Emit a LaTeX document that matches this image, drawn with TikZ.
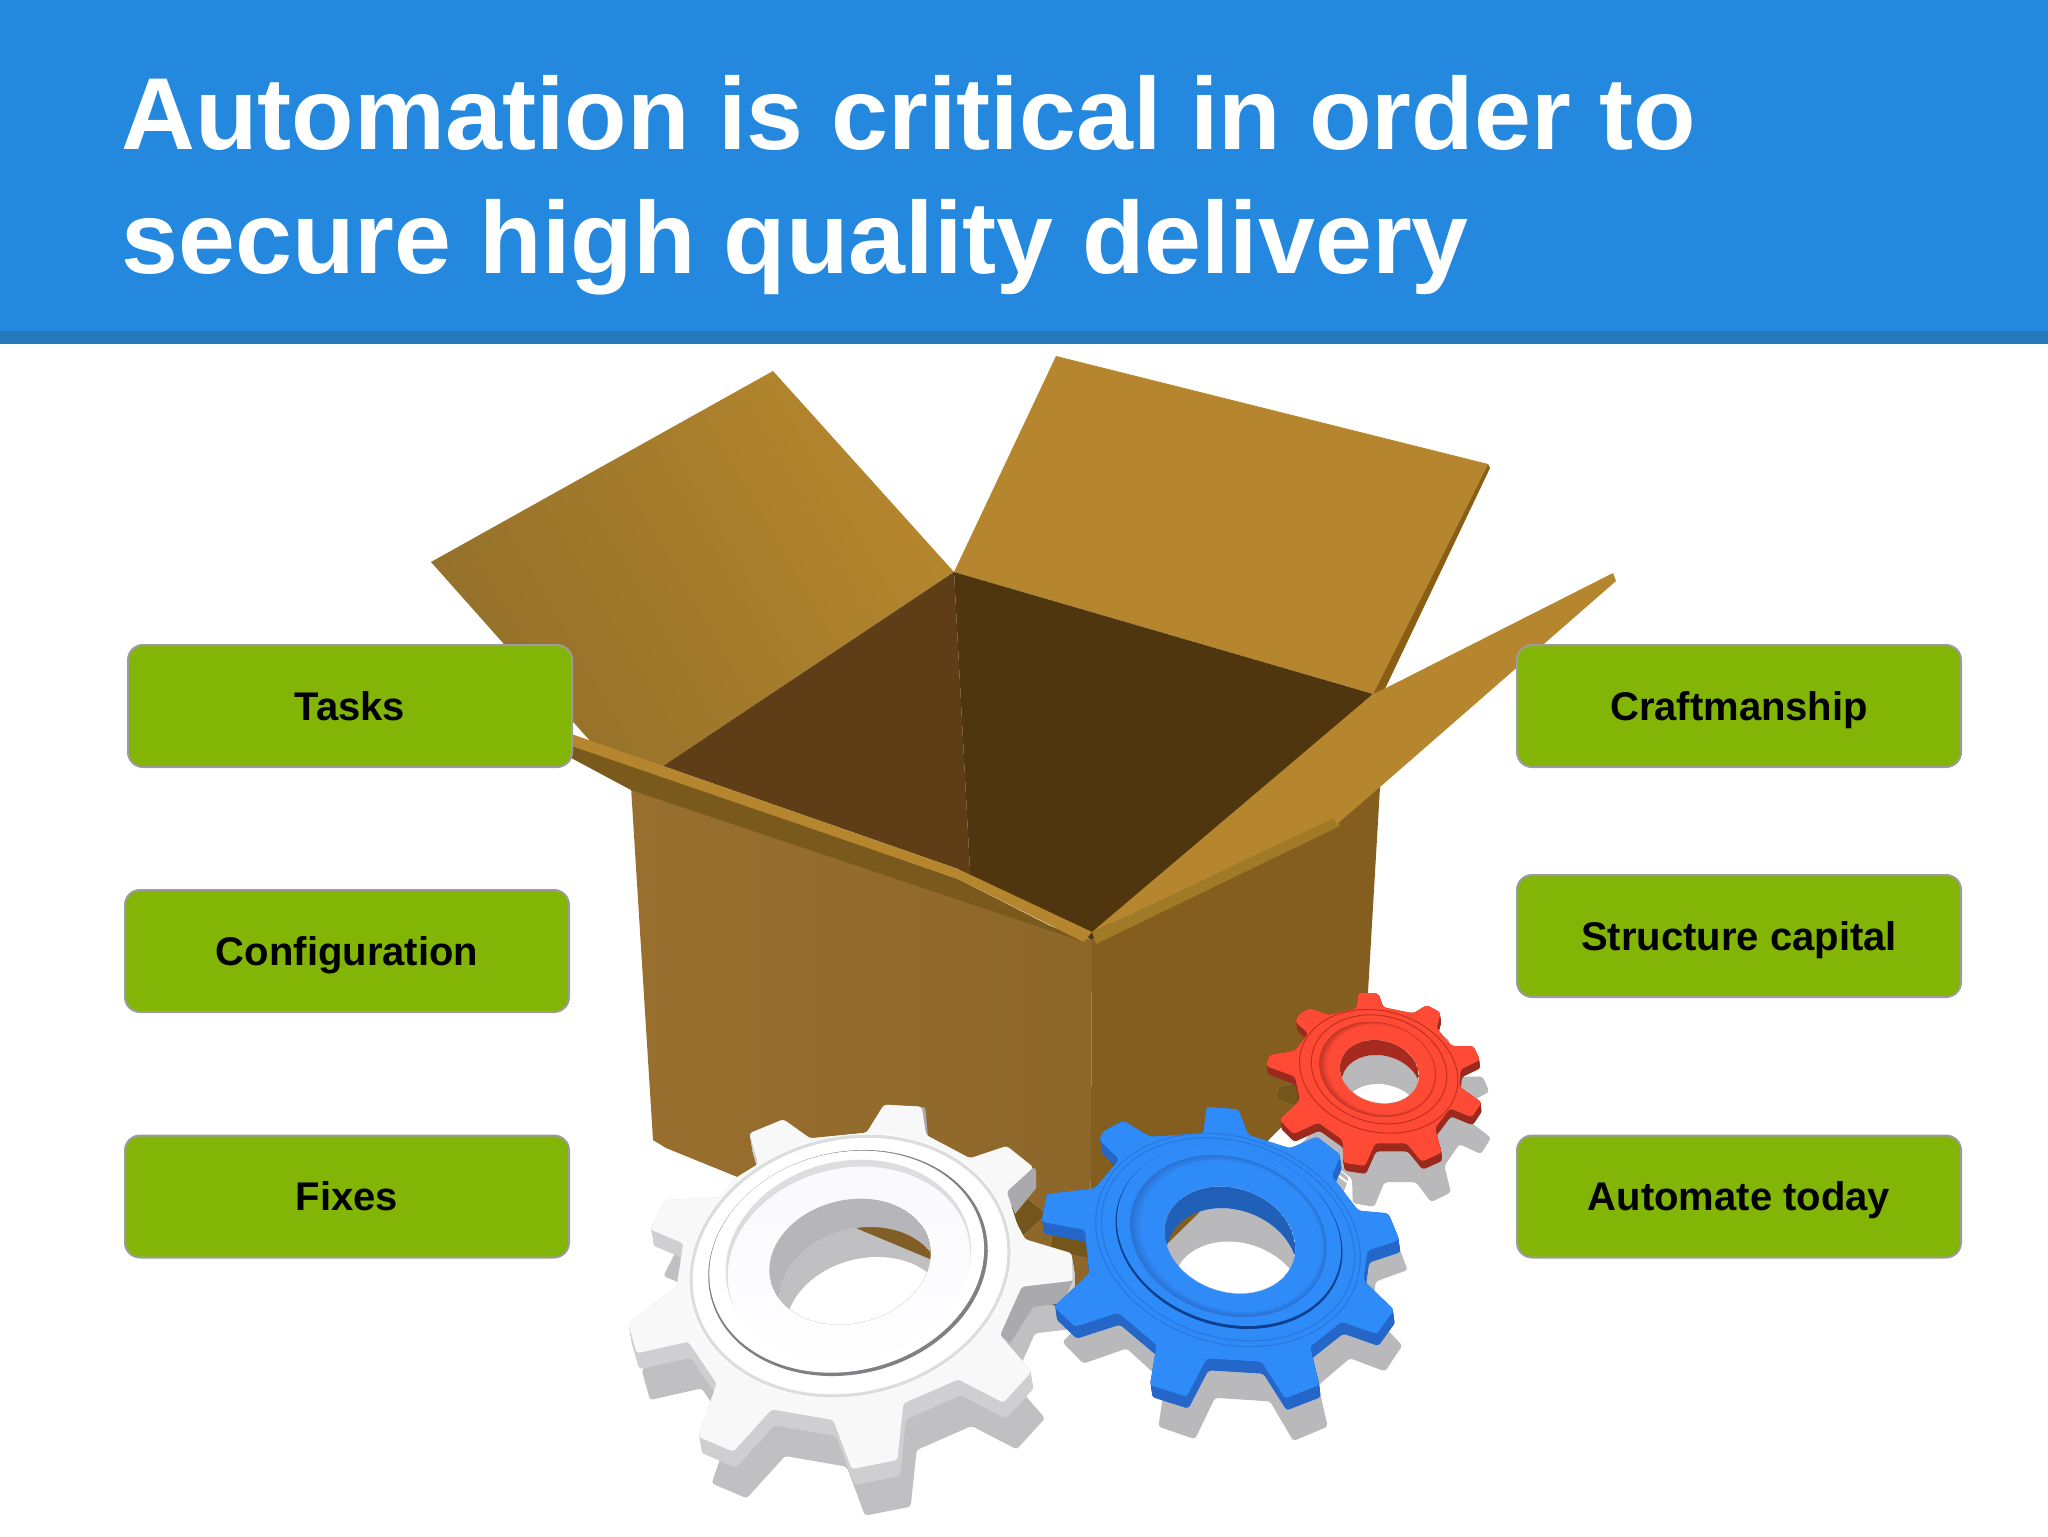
\documentclass[tikz,border=0pt]{standalone}
\usepackage{fontspec}
\setmainfont{Liberation Sans}
\definecolor{hdr}{HTML}{2388DE}
\definecolor{hdrdark}{HTML}{2578BC}
\definecolor{lbl}{HTML}{82B505}
\definecolor{lblline}{HTML}{9C9C9C}
\definecolor{flap}{HTML}{B5862D}
\definecolor{flapdim}{HTML}{94702A}
\definecolor{flapedge}{HTML}{8A5E14}
\definecolor{flapstrip}{HTML}{A07A26}
\definecolor{faceL}{HTML}{996F2E}
\definecolor{faceR}{HTML}{845E1E}
\definecolor{inL}{HTML}{5F3D16}
\definecolor{inR}{HTML}{4F360F}
\definecolor{stripdark}{HTML}{7A5A1C}
\definecolor{brownshade}{HTML}{74561A}
\definecolor{shadowG}{HTML}{B9B9BB}
\definecolor{shadowW}{HTML}{C0C0C3}
\definecolor{wTop}{HTML}{F8F8F9}
\definecolor{wSide}{HTML}{CFCFD2}
\definecolor{wSideD}{HTML}{A9A9AE}
\definecolor{wWall}{HTML}{B5B5BA}
\definecolor{wRing}{HTML}{DDDDE0}
\definecolor{wDark}{HTML}{7F7F84}
\definecolor{wCone}{HTML}{F9F9FE}
\definecolor{bTop}{HTML}{2F8BF7}
\definecolor{bSide}{HTML}{2567C8}
\definecolor{bWall}{HTML}{2060B8}
\definecolor{bDark}{HTML}{0D3F8F}
\definecolor{bLine}{HTML}{2A78E0}
\definecolor{bCone}{HTML}{2A72D4}
\definecolor{rTop}{HTML}{FF4A36}
\definecolor{rSide}{HTML}{9B2A1E}
\definecolor{rWall}{HTML}{A62A1E}
\definecolor{rLine}{HTML}{C0301F}
\definecolor{rCone}{HTML}{C23526}
\def\EE#1#2#3#4#5{(#1,#2) circle [x radius=#3,y radius=#4,rotate=#5]}
\def\Wpoly{(740,128) -- (792,44) -- (905,50) -- (918,135) -- (1050,205) -- (1160,168) -- (1240,232) -- (1160,305) -- (1190,400) -- (1215,448) -- (1355,490) -- (1358,572) -- (1205,590) -- (1140,735) -- (1235,845) -- (1150,938) -- (1015,868) -- (850,940) -- (832,1110) -- (695,1137) -- (640,990) -- (455,958) -- (340,1085) -- (235,1040) -- (290,880) -- (205,755) -- (50,790) -- (25,700) -- (170,590) -- (190,460) -- (90,418) -- (135,330) -- (300,322) -- (345,265) -- (415,222) -- (388,130) -- (490,88) -- (570,145) -- cycle}
\def\Bpoly{(520,130) -- (530,50) -- (625,58) -- (655,135) -- (780,175) -- (860,140) -- (932,195) -- (905,258) -- (985,362) -- (1075,370) -- (1108,450) -- (1012,482) -- (1000,570) -- (1092,660) -- (1040,732) -- (935,695) -- (840,770) -- (868,885) -- (765,925) -- (695,815) -- (530,805) -- (470,920) -- (360,885) -- (380,765) -- (265,668) -- (135,710) -- (72,650) -- (178,550) -- (165,420) -- (35,395) -- (50,312) -- (195,295) -- (268,208) -- (208,150) -- (218,125) -- (280,92) -- (360,140) -- cycle}
\def\Rpoly{(320,85) -- (325,38) -- (385,40) -- (400,82) -- (490,100) -- (530,75) -- (572,98) -- (560,145) -- (605,198) -- (670,198) -- (690,240) -- (632,268) -- (628,320) -- (695,367) -- (665,412) -- (600,385) -- (555,445) -- (575,518) -- (515,545) -- (470,490) -- (375,490) -- (345,558) -- (280,548) -- (278,480) -- (205,428) -- (130,462) -- (88,420) -- (150,360) -- (135,290) -- (48,258) -- (58,225) -- (135,212) -- (175,160) -- (135,125) -- (150,100) -- (180,85) -- (235,105) -- cycle}
\def\BoxOutline{(631,787) -- (1092,940) -- (1380,787) -- (1365,1043) -- (1090,1320) -- (666,1148) -- (653,1140) -- cycle}
\tikzset{
  whitezoom/.style={shift={(620,1090)},scale=0.33333},
  bluezoom/.style={shift={(1030,1090)},scale=0.33333},
  redzoom/.style={shift={(1250,980)},scale=0.33333},
  tabbox/.style={draw=lblline,line width=1pt,fill=lbl,rounded corners=7.5pt,minimum width=222pt,minimum height=61pt,inner sep=0pt,text=black,text height=14.3pt,text depth=0pt,font=\fontsize{20}{24}\selectfont\bfseries},
  toothy/.style={rounded corners=1.5pt}
}
\begin{document}
\begin{tikzpicture}[x=0.5pt,y=-0.5pt]
\useasboundingbox (0,0) rectangle (2048,1536);
% header
\fill[hdr] (0,0) rectangle (2048,331);
\fill[hdrdark] (0,331) rectangle (2048,344);
\node[anchor=north west,inner sep=0pt,text=white,align=left,font=\fontsize{51.15}{62}\selectfont\bfseries] (title) at (121,75) {Automation is critical in order to\\secure high quality delivery};
% carton: back flaps
\shade[left color=flapdim,right color=flap,shading angle=120] (773,371) -- (954,572) -- (663,766) -- (591,742) -- (431,562) -- cycle;
\fill[flap] (1056,356) -- (1488,464) -- (1373,694) -- (954,572) -- cycle;
\fill[flapedge] (1488,464) -- (1490,468) -- (1384,691) -- (1373,694) -- cycle;
% carton: faces
\shade[left color=faceL,right color=faceL!92!black] (631,787) -- (1092,940) -- (1090,1320) -- (666,1148) -- (653,1140) -- cycle;
\fill[faceR] (1092,940) -- (1380,787) -- (1365,1043) -- (1090,1320) -- cycle;
% carton: inside
\fill[inL] (954,572) -- (663,766) -- (958,869) -- (966,880) -- (970,871) -- cycle;
\fill[inR] (954,572) -- (1373,694) -- (1092,940) -- (966,880) -- (970,871) -- cycle;
% carton: front flap
\fill[stripdark] (560,740) -- (958,879) -- (1078,940) -- (631,790) -- (560,752) -- cycle;
\fill[flap] (560,730) -- (663,766) -- (958,869) -- (1092,932) -- (1084,942) -- (958,879) -- (560,742) -- cycle;
% carton: right flap
\fill[flapstrip] (1092,932) -- (1335,817) -- (1340,826) -- (1096,944) -- cycle;
\fill[flap] (1373,694) -- (1384,689) -- (1613,573) -- (1616,581) -- (1380,787) -- (1337,824) -- (1334,818) -- (1092,932) -- cycle;
% label boxes
\node[tabbox] (tasks) at (350,706) {Tasks};
\node[tabbox] (config) at (347,951) {Configuration};
\node[tabbox] (fixes) at (347,1196.5) {Fixes};
\node[tabbox] (craft) at (1739,706) {Craftmanship};
\node[tabbox] (struct) at (1739,936) {Structure capital};
\node[tabbox] (autom) at (1739,1196.5) {Automate today};
% shadows on white
\begin{scope}[whitezoom,shift={(40,140)}]\fill[shadowW,toothy] \Wpoly;\end{scope}
\begin{scope}[bluezoom,shift={(25,54)},yscale=1.08]\fill[shadowG,toothy] \Bpoly;\end{scope}
\begin{scope}[redzoom,shift={(28,75)},yscale=1.085]\fill[shadowG,toothy] \Rpoly;\end{scope}
% the same shadows where they fall on the carton
\begin{scope}
\clip \BoxOutline;
\begin{scope}[whitezoom,shift={(40,140)}]\fill[brownshade,toothy] \Wpoly;\end{scope}
\begin{scope}[bluezoom,shift={(25,54)},yscale=1.08]\fill[brownshade,toothy] \Bpoly;\end{scope}
\begin{scope}[redzoom,shift={(28,75)},yscale=1.085]\fill[brownshade,toothy] \Rpoly;\end{scope}
\end{scope}
% white gear
\begin{scope}[whitezoom]
\foreach \t in {0,...,24} {\begin{scope}[shift={(\t*0.33,\t*2)}]\fill[wSide,toothy] \Wpoly;\end{scope}}
\fill[wSideD] (1160,305) -- (1240,232) -- (1248,240) -- (1248,295) -- (1185,372) -- cycle;
\fill[wSideD] (1205,590) -- (1358,572) -- (1330,640) -- (1240,650) -- (1170,760) -- (1140,735) -- cycle;
\fill[wSideD] (905,50) -- (916,55) -- (924,140) -- (918,135) -- cycle;
\fill[wTop,toothy] \Wpoly;
\fill[white] \EE{690}{528}{490}{390}{14};
\draw[wRing,line width=1.6pt] \EE{690}{528}{482}{383}{14};
\fill[wDark] \EE{684}{519}{424}{333}{14};
\fill[white] \EE{680}{515}{417}{327}{14};
\fill[wRing] \EE{685}{512}{372}{298}{14};
\shade[top color=wCone,bottom color=white] \EE{687}{525}{368}{290}{14};
\begin{scope}
\clip \EE{690}{515}{245}{185}{14};
\fill[white] (300,250) rectangle (1050,800);
\fill[shadowW] \EE{720}{600}{245}{185}{14};
\fill[faceL!85!black] (700,405) -- (950,405) -- (950,515) -- (925,505) -- (710,415) -- cycle;
\fill[white] \EE{740}{690}{245}{185}{14};
\fill[wWall,even odd rule] \EE{690}{515}{245}{185}{14} \EE{720}{600}{245}{185}{14};
\end{scope}
\end{scope}
% red gear
\begin{scope}[redzoom]
\foreach \t in {0,...,12} {\begin{scope}[shift={(\t*0.25,\t*2)}]\fill[rSide,toothy] \Rpoly;\end{scope}}
\fill[rTop,toothy] \Rpoly;
\draw[rLine,line width=0.5pt] \EE{386}{274}{241}{181}{-15};
\draw[rLine,line width=0.5pt] \EE{387}{268}{206}{160}{-15};
\foreach \t in {0,...,8} {
  \pgfmathsetmacro\p{100-\t*12.5}
  \pgfmathsetmacro\cx{383+\t*1.2}
  \pgfmathsetmacro\aa{178-\t*2}
  \pgfmathsetmacro\bb{140-\t*1}
  \fill[rCone!\p!rTop] \EE{\cx}{268}{\aa}{\bb}{-15};
}
\begin{scope}
\clip \EE{388}{275}{120}{93}{-15};
\fill[white] (200,120) rectangle (600,450);
\fill[shadowG] \EE{393}{320}{120}{93}{-15};
\fill[white] \EE{398}{407}{120}{93}{-15};
\fill[rWall,even odd rule] \EE{388}{275}{120}{93}{-15} \EE{393}{320}{120}{93}{-15};
\end{scope}
\end{scope}
% blue gear
\draw[white,line width=1pt] (1335,1173) -- (1351,1185) -- (1351,1200);
\begin{scope}[bluezoom]
\foreach \t in {0,...,18} {\begin{scope}[shift={(\t*0.28,\t*2)}]\fill[bSide,toothy] \Bpoly;\end{scope}}
\fill[bTop,toothy] \Bpoly;
\draw[bLine,line width=0.6pt] \EE{594}{450}{406}{308}{-19};
\draw[bLine,line width=0.6pt] \EE{594}{448}{389}{293}{-19};
\fill[bDark] \EE{597}{441}{348}{266}{-19};
\fill[bTop] \EE{597}{436}{344}{262}{-19};
\foreach \t in {0,...,8} {
  \pgfmathsetmacro\p{100-\t*12.5}
  \pgfmathsetmacro\cx{595+\t*1.2}
  \pgfmathsetmacro\aa{301-\t*3}
  \pgfmathsetmacro\bb{235-\t*2}
  \fill[bCone!\p!bTop] \EE{\cx}{438}{\aa}{\bb}{-19};
}
\begin{scope}
\clip \EE{600}{450}{200}{155}{-19};
\fill[white] (350,250) rectangle (850,650);
\fill[shadowG] \EE{605}{515}{200}{155}{-19};
\fill[faceL!85!black] (395,340) -- (510,365) -- (415,458) -- (395,470) -- cycle;
\fill[white] \EE{625}{615}{200}{155}{-19};
\fill[bWall,even odd rule] \EE{600}{450}{200}{155}{-19} \EE{605}{515}{200}{155}{-19};
\end{scope}
\end{scope}
\end{tikzpicture}
\end{document}
